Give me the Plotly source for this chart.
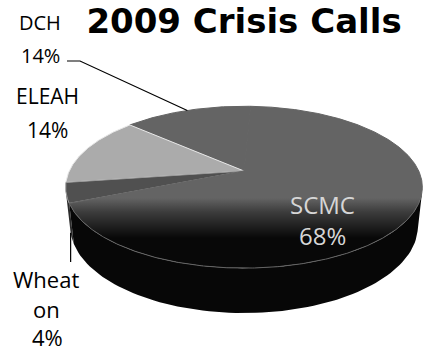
import numpy as np
import plotly.graph_objects as go

# --- data -------------------------------------------------------------
labels = ["DCH", "ELEAH", "Wheaton", "SCMC"]
values = [14, 14, 4, 68]
label_lines = {"Wheaton": ["Wheat", "on"]}   # how the long name wraps
title_text = "2009 Crisis Calls"

# --- 3-D pie geometry (perspective view of a short cylinder) ----------
START_DEG = 87.4          # first slice starts here, counter-clockwise, 90 = back
ELEV = np.radians(26.4)   # camera elevation
DIST = 4.48               # camera distance in pie radii
FOCAL = 783.0
CX, CY = 244.0, 171.0     # screen position of the pie centre
THICK = 0.252             # cylinder height in pie radii

top_colors = {"DCH": "#646464", "ELEAH": "#ababab", "Wheaton": "#505050", "SCMC": "#646464"}
wall_colors = {"DCH": "#1a1a1a", "ELEAH": "#6a6a6a", "Wheaton": "#2c2c2c", "SCMC": "#070707"}
edge_colors = {"DCH": "#646464", "ELEAH": "#e8e8e8", "Wheaton": "#9a9a9a", "SCMC": "#646464"}


def project(phi_deg, z=0.0):
    phi = np.radians(np.asarray(phi_deg, dtype=float))
    X = np.cos(phi)
    Y = -np.sin(phi)              # positive Y points toward the viewer
    depth = DIST - Y * np.cos(ELEV) - z * np.sin(ELEV)
    sx = FOCAL * X / depth
    sy = FOCAL * (Y * np.sin(ELEV) - z * np.cos(ELEV)) / depth
    return CX + sx, CY + sy


total = float(sum(values))
bounds = START_DEG + 360.0 * np.concatenate([[0.0], np.cumsum(values)]) / total
slices = [(lab, v, bounds[i], bounds[i + 1]) for i, (lab, v) in enumerate(zip(labels, values))]

# wall faces the camera where sin(phi) < -1/(DIST*cos(ELEV))
k = np.degrees(np.arcsin(1.0 / (DIST * np.cos(ELEV))))
vis_lo, vis_hi = 180.0 + k, 360.0 - k

fig = go.Figure()

# outer walls (only the visible front part)
for lab, v, a0, a1 in slices:
    for shift in (-360.0, 0.0, 360.0):
        lo = max(a0 + shift, vis_lo)
        hi = min(a1 + shift, vis_hi)
        if hi <= lo:
            continue
        arc = np.linspace(lo, hi, 80)
        tx, ty = project(arc, 0.0)
        bx, by = project(arc[::-1], -THICK)
        fig.add_trace(go.Scatter(
            x=np.concatenate([tx, bx, tx[:1]]), y=np.concatenate([ty, by, ty[:1]]),
            mode="lines", fill="toself", fillcolor=wall_colors[lab],
            line=dict(width=0), hoverinfo="skip", showlegend=False))

# top faces
for lab, v, a0, a1 in slices:
    arc = np.linspace(a0, a1, max(int((a1 - a0) * 2), 20))
    ax_, ay_ = project(arc, 0.0)
    xs = np.concatenate([[CX], ax_, [CX]])
    ys = np.concatenate([[CY], ay_, [CY]])
    kw = dict(fillcolor=top_colors[lab])
    if lab == "SCMC":
        kw = dict(fillgradient=dict(type="vertical",
                                    colorscale=[[0, "#646464"], [0.35, "#3c3c3c"], [1, "#080808"]],
                                    start=198, stop=238))
    fig.add_trace(go.Scatter(
        x=xs, y=ys, mode="lines", fill="toself",
        line=dict(width=1, color=edge_colors[lab]),
        hoverinfo="skip", showlegend=False, **kw))

# --- labels and leader lines -----------------------------------------
font_lbl = "Open Sans, Arial, sans-serif"
mid = {lab: 0.5 * (a0 + a1) for lab, v, a0, a1 in slices}
pct = {lab: f"{round(100 * v / total)}%" for lab, v in zip(labels, values)}

# DCH: label top-left, leader to the rim at the slice middle
rx, ry = project(mid["DCH"], 0.0)
fig.add_trace(go.Scatter(x=[67, 80, float(rx)], y=[61, 61, float(ry)], mode="lines",
                         line=dict(color="black", width=1.2), hoverinfo="skip", showlegend=False))
# Wheaton: leader from the bottom of its wall straight down to the label
wx, wy = project(mid["Wheaton"], -THICK)
fig.add_trace(go.Scatter(x=[float(wx), float(wx)], y=[float(wy), 262], mode="lines",
                         line=dict(color="black", width=1.2), hoverinfo="skip", showlegend=False))

annots = []


def put(text, x, y, size, color="black"):
    annots.append(dict(text=text, x=x, y=y, xref="x", yref="y", showarrow=False,
                       xanchor="center", yanchor="middle",
                       font=dict(family=font_lbl, size=size, color=color)))


put("DCH", 40, 22, 20)
put(pct["DCH"], 40, 55, 20)
put("ELEAH", 47, 96, 21)
put(pct["ELEAH"], 47, 130, 21)
for i, line in enumerate(label_lines["Wheaton"]):
    put(line, 46, 279 + 30 * i, 22)
put(pct["Wheaton"], 47, 337, 22)
put("SCMC", 322, 204, 24, "#d6d6d6")
put(pct["SCMC"], 322, 235, 24, "#d6d6d6")

fig.update_layout(
    width=425, height=352,
    margin=dict(l=0, r=0, t=0, b=0),
    paper_bgcolor="white", plot_bgcolor="white",
    title=dict(text=f"<b>{title_text}</b>", x=244 / 425, xanchor="center",
               y=1 - 21 / 352, yanchor="middle",
               font=dict(family="DejaVu Sans, sans-serif", size=34, color="black")),
    xaxis=dict(range=[0, 425], visible=False, fixedrange=True),
    yaxis=dict(range=[352, 0], visible=False, fixedrange=True),
    annotations=annots,
    showlegend=False,
)

fig.write_html("out.html")
